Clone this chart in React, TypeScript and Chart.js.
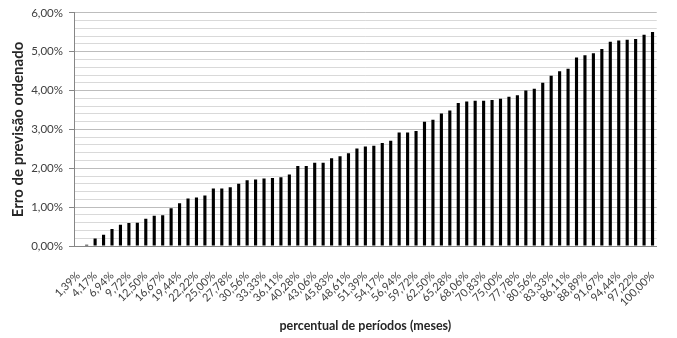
import React, { useEffect, useRef } from "react";
import { Chart, registerables } from "chart.js";

Chart.register(...registerables);

const categories: string[] = [
  "1,39%", "2,78%", "4,17%", "5,56%", "6,94%", "8,33%", "9,72%", "11,11%", "12,50%", "15,28%",
  "16,67%", "18,06%", "19,44%", "20,83%", "22,22%", "23,61%", "25,00%", "26,39%", "27,78%", "29,17%",
  "30,56%", "31,94%", "33,33%", "34,72%", "36,11%", "38,89%", "40,28%", "41,67%", "43,06%", "44,44%",
  "45,83%", "47,22%", "48,61%", "50,00%", "51,39%", "52,78%", "54,17%", "55,56%", "56,94%", "58,33%",
  "59,72%", "61,11%", "62,50%", "63,89%", "65,28%", "66,67%", "68,06%", "69,44%", "70,83%", "73,61%",
  "75,00%", "76,39%", "77,78%", "79,17%", "80,56%", "81,94%", "83,33%", "84,72%", "86,11%", "87,50%",
  "88,89%", "90,28%", "91,67%", "93,06%", "94,44%", "95,83%", "97,22%", "98,61%", "100,00%",
];

// Erro de previsão ordenado, in percent
const values: number[] = [
  0, 0.03, 0.19, 0.29, 0.44, 0.55, 0.59, 0.6, 0.7, 0.78,
  0.79, 0.97, 1.1, 1.22, 1.25, 1.3, 1.48, 1.48, 1.51, 1.6,
  1.69, 1.71, 1.74, 1.75, 1.77, 1.84, 2.06, 2.06, 2.14, 2.14,
  2.26, 2.31, 2.39, 2.51, 2.56, 2.58, 2.65, 2.71, 2.92, 2.92,
  2.96, 3.2, 3.25, 3.41, 3.49, 3.68, 3.72, 3.74, 3.74, 3.76,
  3.79, 3.84, 3.88, 4.0, 4.05, 4.2, 4.38, 4.5, 4.56, 4.85,
  4.91, 4.96, 5.07, 5.26, 5.29, 5.31, 5.33, 5.44, 5.51,
];

const yMin = 0;
const yMax = 6;
const yMinorStep = 0.2;

const yTitle = "Erro de previsão ordenado";
const xTitle = "percentual de períodos (meses)";

const isMajor = (v: number) => Math.abs(v - Math.round(v)) < 1e-6;
const fmtPct = (v: number) => v.toFixed(2).replace(".", ",") + "%";

export default function App() {
  const ref = useRef<HTMLCanvasElement | null>(null);

  useEffect(() => {
    document.body.style.margin = "0";
    if (!ref.current) return;
    const chart = new Chart(ref.current, {
      type: "bar",
      data: {
        labels: categories,
        datasets: [
          {
            data: values,
            backgroundColor: "#000000",
            borderWidth: 0,
            categoryPercentage: 1,
            barPercentage: 0.37,
          },
        ],
      },
      options: {
        responsive: false,
        animation: false,
        maintainAspectRatio: false,
        layout: { padding: { top: 12, right: 20, left: 0, bottom: 0 } },
        plugins: {
          legend: { display: false },
          tooltip: { enabled: false },
        },
        scales: {
          x: {
            grid: { display: false },
            border: { display: true, color: "#868686", width: 1 },
            ticks: {
              autoSkip: false,
              maxRotation: 45,
              minRotation: 45,
              padding: 15,
              color: "#404040",
              font: { family: "Lato", size: 11 },
              callback: (_v: any, i: number) => (i % 2 === 0 ? categories[i] : ""),
            },
            title: {
              display: true,
              text: xTitle,
              color: "#262626",
              font: { family: "Lato", size: 12.5, weight: "bold" },
              padding: { top: 0, bottom: 5 },
            },
            afterFit: (s: any) => {
              s.height = 92;
            },
          },
          y: {
            min: yMin,
            max: yMax,
            ticks: {
              stepSize: yMinorStep,
              autoSkip: false,
              color: "#404040",
              padding: 6,
              font: { family: "Lato", size: 11.5 },
              callback: (v: any) => (isMajor(Number(v)) ? fmtPct(Number(v)) : ""),
            },
            grid: {
              color: (c: any) => (isMajor(c.tick?.value ?? 0) ? "#bdbdbd" : "#d9d9d9"),
              tickColor: (c: any) => (isMajor(c.tick?.value ?? 0) ? "#868686" : "rgba(0,0,0,0)"),
              tickLength: 5,
              lineWidth: 1,
            },
            border: { display: true, color: "#868686", width: 1 },
            title: {
              display: true,
              text: yTitle,
              color: "#262626",
              font: { family: "Lato", size: 15, weight: "bold" },
              padding: { top: 9, bottom: 0 },
            },
            afterFit: (s: any) => {
              s.width = 74;
            },
          },
        },
      },
    } as any);
    return () => chart.destroy();
  }, []);

  return (
    <div style={{ width: 677, height: 338, background: "#ffffff" }}>
      <canvas ref={ref} width={677} height={338} />
    </div>
  );
}
